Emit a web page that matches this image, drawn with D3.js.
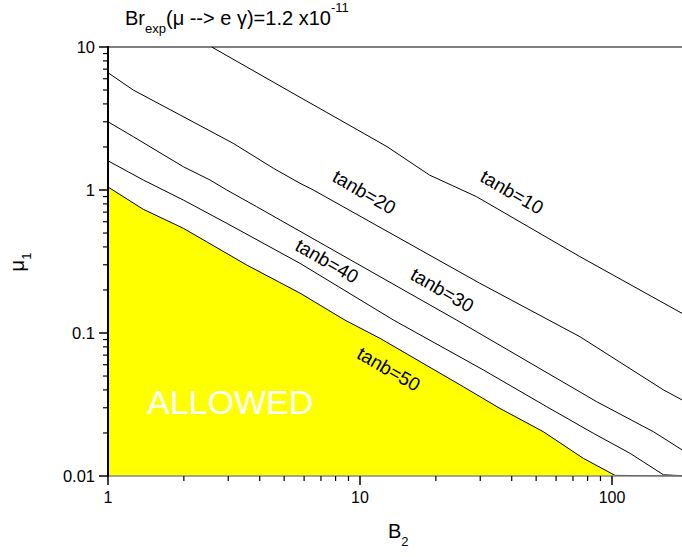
<!DOCTYPE html>
<html>
<head>
<meta charset="utf-8">
<script src="https://cdn.jsdelivr.net/npm/d3@7"></script>
<style>
  html, body { margin: 0; padding: 0; background: #fff; }
  svg { display: block; }
  text { font-family: "Liberation Sans", Arial, Helvetica, sans-serif; fill: #000; }
</style>
</head>
<body>
<svg id="chart" width="682" height="557"></svg>
<script>
// ---- data ----
const curveLabels = ["tanb=10", "tanb=20", "tanb=30", "tanb=40", "tanb=50"];

const b2_tanb10 = [2.58, 5.28, 8.33, 12.8, 18.9, 29.0, 74.6, 190];
const mu_tanb10 = [10, 4.87, 3.09, 2.01, 1.27, 0.898, 0.342, 0.137];

const b2_tanb20 = [1, 1.26, 1.93, 3.14, 4.53, 5.78, 6.53, 29.9, 74.6, 160, 190];
const mu_tanb20 = [6.61, 5.0, 3.35, 2.12, 1.42, 1.114, 1.0, 0.2227, 0.0942, 0.040, 0.034];

const b2_tanb30 = [1, 1.26, 1.99, 2.54, 2.96, 3.89, 4.82, 24.2, 86.9, 146, 190];
const mu_tanb30 = [3.0, 2.36, 1.455, 1.175, 1.0, 0.764, 0.617, 0.123, 0.0331, 0.0204, 0.0152];

const b2_tanb40 = [1, 1.38, 1.99, 2.96, 5.78, 13.6, 30.9, 55.1, 84.3, 118, 160, 200];
const mu_tanb40 = [1.60, 1.175, 0.851, 0.585, 0.307, 0.123, 0.0551, 0.0305, 0.0199, 0.0144, 0.0102, 0.01];

const b2_tanb50 = [1, 1.38, 1.99, 2.46, 3.55, 5.78, 8.72, 12.0, 25.7, 35.9, 53.4, 76.9, 102.8, 200];
const mu_tanb50 = [1.05, 0.733, 0.54, 0.435, 0.299, 0.19, 0.123, 0.0918, 0.0421, 0.0297, 0.0204, 0.0133, 0.0101, 0.01];

const xMajorTicks = [1, 10, 100];
const xTickLabels = ["1", "10", "100"];
const yMajorTicks = [0.01, 0.1, 1, 10];
const yTickLabels = ["0.01", "0.1", "1", "10"];

// label anchor positions (B2, mu1) for curve labels
const labelB2 = [40.1, 10.4, 21.2, 7.4, 13.0];
const labelMu = [0.968, 0.968, 0.20, 0.319, 0.056];

// ---- layout ----
const svg = d3.select("#chart");
const padL = 108, padT = 47, padB = 476;
const decadeX = 252;
const x = d3.scaleLog().domain([1, 200]).range([padL, padL + decadeX * Math.log10(200)]);
const y = d3.scaleLog().domain([0.01, 10]).range([padB, padT]);
const rightEdge = 682;

const defs = svg.append("defs");
defs.append("clipPath").attr("id", "plotclip")
  .append("rect").attr("x", padL).attr("y", padT - 1)
  .attr("width", rightEdge - padL + 10).attr("height", padB - padT + 2);

const series = [
  [b2_tanb10, mu_tanb10],
  [b2_tanb20, mu_tanb20],
  [b2_tanb30, mu_tanb30],
  [b2_tanb40, mu_tanb40],
  [b2_tanb50, mu_tanb50]
].map(([bs, ms]) => bs.map((b, i) => [b, ms[i]]));

const plot = svg.append("g").attr("clip-path", "url(#plotclip)");

// allowed region (below tanb=50)
const area = d3.area()
  .x(d => x(d[0]))
  .y0(y(0.01))
  .y1(d => y(d[1]));
plot.append("path")
  .datum(series[4])
  .attr("d", area)
  .attr("fill", "#ffff00")
  .attr("stroke", "none");

// ---- axes ----
const minorX = [];
[1, 10, 100].forEach(d => { for (let k = 2; k <= 9; k++) { if (d * k <= 200) minorX.push(d * k); } });
const minorY = [];
[0.01, 0.1, 1].forEach(d => { for (let k = 2; k <= 9; k++) minorY.push(d * k); });

// bottom axis line (gray)
svg.append("line")
  .attr("x1", padL).attr("x2", rightEdge)
  .attr("y1", padB).attr("y2", padB)
  .attr("stroke", "#888").attr("stroke-width", 1.5);

// top frame line
svg.append("line")
  .attr("x1", padL).attr("x2", rightEdge)
  .attr("y1", padT).attr("y2", padT)
  .attr("stroke", "#000").attr("stroke-width", 1.2);

// x ticks
const xAxisG = svg.append("g");
xAxisG.selectAll("line.maj").data(xMajorTicks).join("line")
  .attr("class", "maj")
  .attr("x1", d => x(d)).attr("x2", d => x(d))
  .attr("y1", padB).attr("y2", padB + 9)
  .attr("stroke", "#000").attr("stroke-width", 1.5);
xAxisG.selectAll("line.min").data(minorX.filter(d => x(d) < rightEdge)).join("line")
  .attr("class", "min")
  .attr("x1", d => x(d)).attr("x2", d => x(d))
  .attr("y1", padB).attr("y2", padB + 5)
  .attr("stroke", "#000").attr("stroke-width", 1.2);
xAxisG.selectAll("text").data(xMajorTicks).join("text")
  .attr("x", d => x(d)).attr("y", 503)
  .attr("text-anchor", "middle")
  .attr("font-size", 16)
  .text((d, i) => xTickLabels[i]);

// y ticks
const yAxisG = svg.append("g");
yAxisG.selectAll("line.maj").data(yMajorTicks).join("line")
  .attr("class", "maj")
  .attr("x1", padL).attr("x2", padL - 9)
  .attr("y1", d => y(d)).attr("y2", d => y(d))
  .attr("stroke", "#000").attr("stroke-width", 1.5);
yAxisG.selectAll("line.min").data(minorY).join("line")
  .attr("class", "min")
  .attr("x1", padL).attr("x2", padL - 5)
  .attr("y1", d => y(d)).attr("y2", d => y(d))
  .attr("stroke", "#000").attr("stroke-width", 1.2);
yAxisG.selectAll("text").data(yMajorTicks).join("text")
  .attr("x", 95).attr("y", d => y(d))
  .attr("dy", "0.35em")
  .attr("text-anchor", "end")
  .attr("font-size", 16.5)
  .text((d, i) => yTickLabels[i]);

// left axis line
svg.append("line")
  .attr("x1", padL).attr("x2", padL)
  .attr("y1", padT - 1).attr("y2", padB + 1)
  .attr("stroke", "#000").attr("stroke-width", 2);

// ---- curves ----
const line = d3.line().x(d => x(d[0])).y(d => y(d[1]));
plot.selectAll("path.curve").data(series).join("path")
  .attr("class", "curve")
  .attr("d", line)
  .attr("fill", "none")
  .attr("stroke", "#000")
  .attr("stroke-width", 1);

// curve labels
svg.append("g").selectAll("text").data(curveLabels).join("text")
  .attr("transform", (d, i) => `translate(${x(labelB2[i])},${y(labelMu[i])}) rotate(30)`)
  .attr("text-anchor", "middle")
  .attr("dy", "0.35em")
  .attr("font-size", 19)
  .text(d => d);

// ALLOWED
svg.append("text")
  .attr("x", 147).attr("y", 414)
  .attr("font-size", 34)
  .style("fill", "#fff")
  .text("ALLOWED");

// ---- titles ----
const title = svg.append("text").attr("x", 125).attr("y", 25).attr("font-size", 20);
title.append("tspan").text("Br");
title.append("tspan").attr("font-size", 13).attr("dy", 8).text("exp");
title.append("tspan").attr("dy", -8).text("(\u03bc --> e \u03b3)=1.2 x10");
title.append("tspan").attr("font-size", 13).attr("dy", -13).text("-11");

const xl = svg.append("text").attr("x", 388).attr("y", 538).attr("font-size", 20);
xl.append("tspan").text("B");
xl.append("tspan").attr("font-size", 13).attr("dy", 8).text("2");

const yl = svg.append("text")
  .attr("transform", "translate(24,262) rotate(-90)")
  .attr("text-anchor", "middle")
  .attr("font-size", 20);
yl.append("tspan").text("\u03bc");
yl.append("tspan").attr("font-size", 13).attr("dy", 7).text("1");
</script>
</body>
</html>
